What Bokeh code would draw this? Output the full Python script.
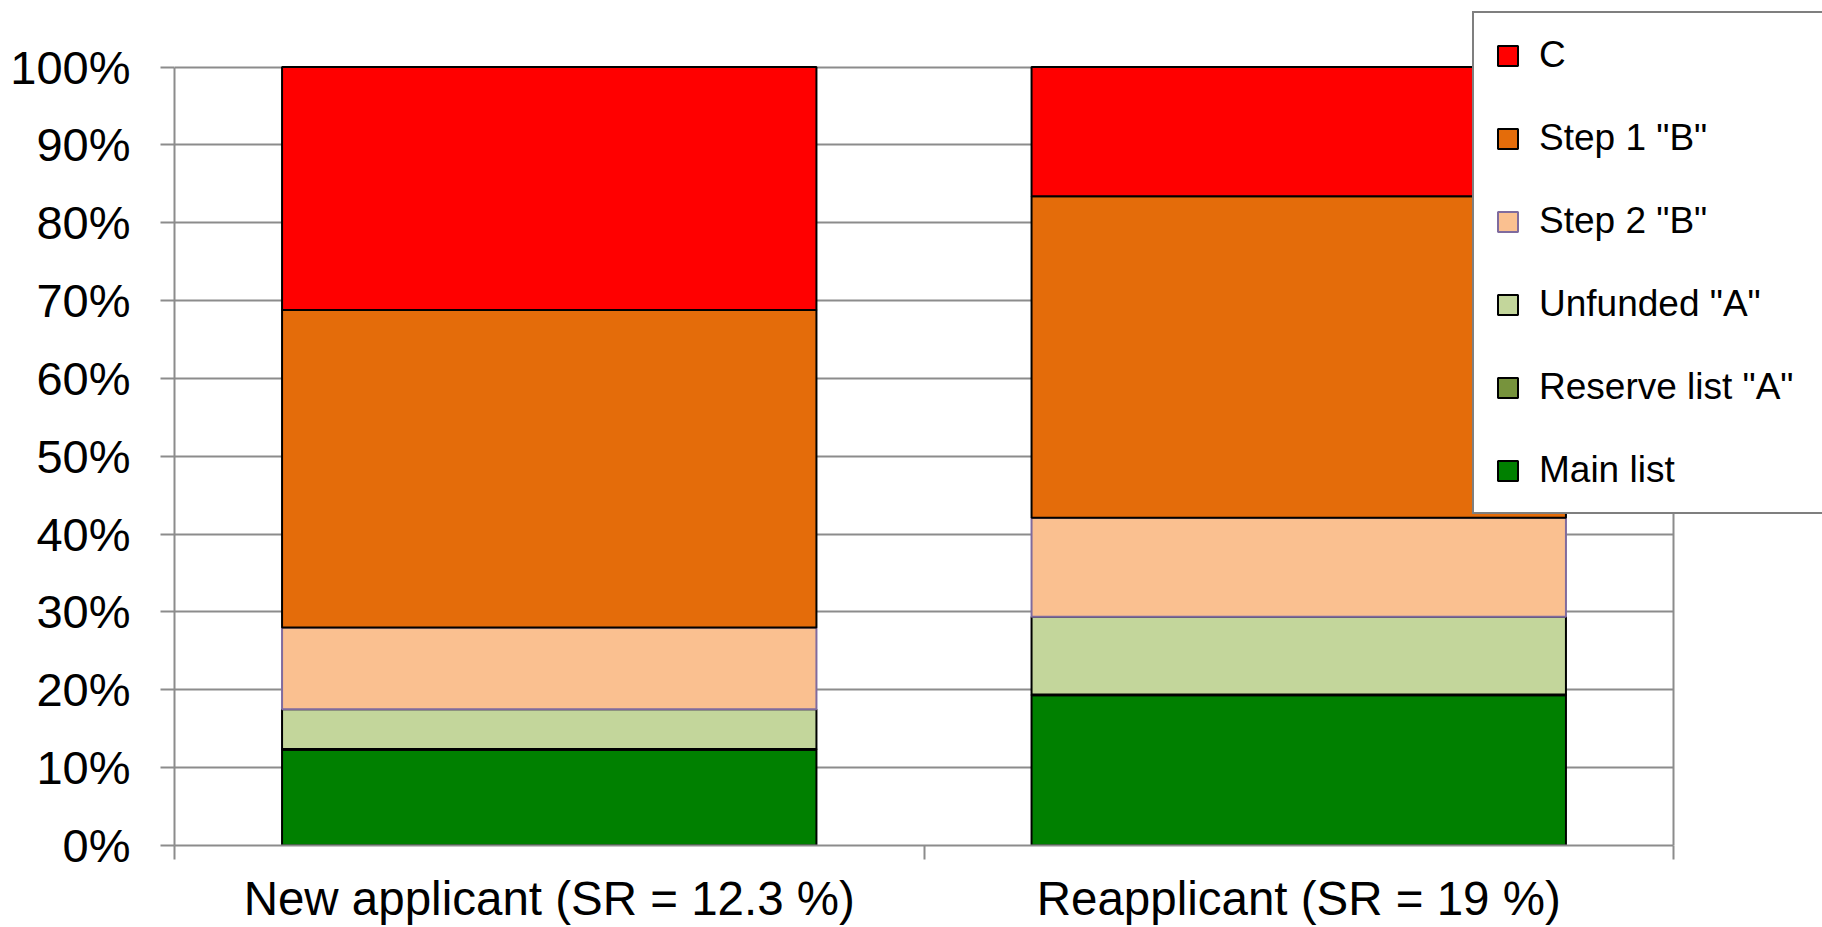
from bokeh.plotting import figure
from bokeh.models import Range1d, FixedTicker, Legend, LegendItem, ColumnDataSource
from bokeh.embed import file_html
from bokeh.resources import INLINE

# ---- data ----
categories = ["New applicant (SR = 12.3 %)", "Reapplicant (SR = 19 %)"]
x_pos = [0.5, 1.5]
main_list = [12.3, 19.3]
reserve_list = [0.1, 0.1]
unfunded_a = [5.1, 10.0]
step2_b = [10.5, 12.7]
step1_b = [40.8, 41.3]
c_grade = [31.2, 16.6]

series_keys = ["main", "reserve", "unfunded", "step2", "step1", "c"]
series_names = ["Main list", 'Reserve list "A"', 'Unfunded "A"', 'Step 2 "B"', 'Step 1 "B"', "C"]
series_colors = ["#008000", "#77933C", "#C3D69B", "#FAC090", "#E46C0A", "#FF0000"]
series_lines = ["#000000", "#000000", "#000000", "#7F6B9E", "#000000", "#000000"]

y_ticks = [0, 10, 20, 30, 40, 50, 60, 70, 80, 90, 100]
y_tick_labels = ["0%", "10%", "20%", "30%", "40%", "50%", "60%", "70%", "80%", "90%", "100%"]
cat_bounds = [0, 1, 2]

FONT = "Liberation Sans"
GRID = "#8c8c8c"

W, H = 1822, 927
LEFT, BOTTOM = 174, 82
PX_PER_PCT = 7.784
PX_PER_CAT = 749.5

source = ColumnDataSource(dict(
    x=x_pos, main=main_list, reserve=reserve_list, unfunded=unfunded_a,
    step2=step2_b, step1=step1_b, c=c_grade,
))

# frame reaches the top and right edges so the legend can sit over that area
y_end = (H - BOTTOM) / PX_PER_PCT
x_end = (W - LEFT) / PX_PER_CAT

p = figure(width=W, height=H, x_range=Range1d(0, x_end), y_range=Range1d(0, y_end),
           output_backend="svg", toolbar_location=None,
           min_border_left=LEFT, min_border_right=0, min_border_top=0, min_border_bottom=BOTTOM)
p.background_fill_color = "white"
p.border_fill_color = "white"
p.outline_line_color = None

renderers = p.vbar_stack(series_keys, x="x", width=0.713, source=source,
                         fill_color=series_colors, line_color=series_lines, line_width=2)

# x axis: labels at category centres, boundary ticks as minor ticks
p.xaxis.ticker = FixedTicker(ticks=x_pos, minor_ticks=cat_bounds)
p.xaxis.major_label_overrides = dict(zip(x_pos, categories))
p.xaxis.bounds = (0, 2)
p.xaxis.axis_line_color = GRID
p.xaxis.axis_line_width = 2
p.xaxis.major_tick_out = 0
p.xaxis.major_tick_in = 0
p.xaxis.minor_tick_out = 14
p.xaxis.minor_tick_in = 0
p.xaxis.minor_tick_line_color = GRID
p.xaxis.minor_tick_line_width = 2
p.xaxis.major_label_text_font = FONT
p.xaxis.major_label_text_font_size = "47.5px"
p.xaxis.major_label_text_color = "black"
p.xaxis.major_label_standoff = 12

p.yaxis.ticker = FixedTicker(ticks=y_ticks, minor_ticks=[])
p.yaxis.major_label_overrides = dict(zip(y_ticks, y_tick_labels))
p.yaxis.bounds = (0, 100)
p.yaxis.axis_line_color = GRID
p.yaxis.axis_line_width = 2
p.yaxis.major_tick_out = 14
p.yaxis.major_tick_in = 0
p.yaxis.minor_tick_out = 0
p.yaxis.minor_tick_in = 0
p.yaxis.major_tick_line_color = GRID
p.yaxis.major_tick_line_width = 2
p.yaxis.major_label_text_font = FONT
p.yaxis.major_label_text_font_size = "47px"
p.yaxis.major_label_text_color = "black"
p.yaxis.major_label_standoff = 30

p.ygrid.grid_line_color = GRID
p.ygrid.grid_line_width = 2
p.ygrid.cross_bounds = (0, 2)

# right border of the plot area
p.xgrid.ticker = FixedTicker(ticks=[2], minor_ticks=[])
p.xgrid.grid_line_color = GRID
p.xgrid.grid_line_width = 2
p.xgrid.cross_bounds = (0, 100)

# legend (top item first)
items = [LegendItem(label=n, renderers=[r]) for n, r in zip(series_names, renderers)][::-1]
legend = Legend(items=items, location=(1298, 331), orientation="vertical",
                label_text_font=FONT, label_text_font_size="37px", label_text_color="black",
                glyph_width=25, glyph_height=25, label_standoff=19, label_width=330,
                padding=21, spacing=41, margin=0,
                border_line_color="black", border_line_width=2,
                background_fill_color="white", background_fill_alpha=1.0)
p.add_layout(legend)

open("out.html", "w").write(file_html(p, INLINE))
